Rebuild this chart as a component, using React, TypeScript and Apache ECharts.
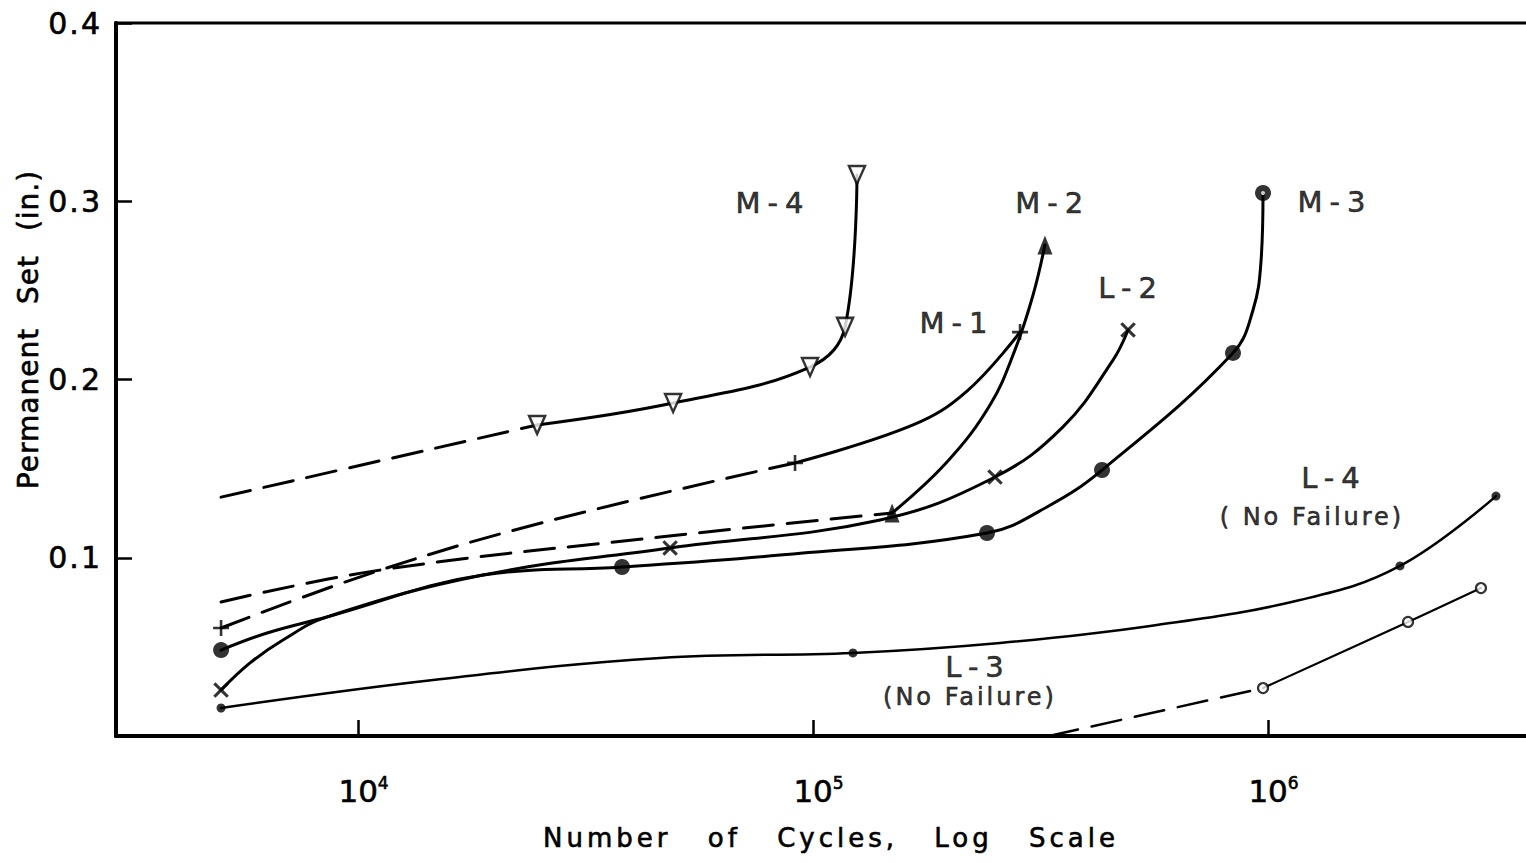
import React, { useEffect, useRef } from 'react';
import * as echarts from 'echarts';

type Pt = [number, number];

const FONT = "'DejaVu Sans', 'Liberation Sans', sans-serif";
const INK = { color: '#000', textBorderColor: '#000', textBorderWidth: 0.6 };

// ---- axes ----
const xMin = 2938;
const xMax = 4083000;
const yMin = 0;
const yMax = 0.4;
const yInterval = 0.1;
const xAxisTitle = 'Number of Cycles, Log Scale';
const yAxisTitle = 'Permanent Set (in.)';

// ---- M-4 (open down-triangles) ----
const m4Dashed: Pt[] = [[5000, 0.134], [24750, 0.1745]];
const m4Solid: Pt[] = [[24750, 0.1745], [49260, 0.1868], [98500, 0.207], [117600, 0.2295], [124900, 0.3147]];
const m4Marks: Pt[] = [[24750, 0.1745], [49260, 0.1868], [98500, 0.207], [117600, 0.2295], [124900, 0.3147]];

// ---- M-2 (filled up-triangles) ----
const m2Dashed: Pt[] = [[5000, 0.0752], [11200, 0.0931], [46100, 0.1116], [149200, 0.1251]];
const m2Solid: Pt[] = [[149200, 0.1251], [197000, 0.1537], [244900, 0.1857], [277900, 0.2166], [304500, 0.2474], [323400, 0.2755]];
const m2Marks: Pt[] = [[149200, 0.1251], [323400, 0.2755]];

// ---- M-1 (plus) ----
const m1Dashed: Pt[] = [[5000, 0.0606], [11200, 0.0931], [26830, 0.1212], [91300, 0.1532]];
const m1Solid: Pt[] = [[91300, 0.1532], [165900, 0.1745], [218000, 0.1935], [285100, 0.2266]];
const m1Marks: Pt[] = [[5000, 0.0606], [91300, 0.1532], [285100, 0.2266]];

// ---- L-2 (cross) ----
const l2Solid: Pt[] = [
  [5000, 0.0258], [5790, 0.041], [6840, 0.0539], [8550, 0.0668], [18830, 0.0903],
  [48520, 0.1055], [140400, 0.1212], [251200, 0.1453], [354300, 0.1734], [456300, 0.2109], [492500, 0.2278],
];
const l2Marks: Pt[] = [[5000, 0.0258], [48520, 0.1055], [251200, 0.1453], [492500, 0.2278]];

// ---- M-3 (large filled dots) ----
const m3Solid: Pt[] = [
  [5000, 0.0482], [6310, 0.0578], [8550, 0.0668], [18830, 0.0903], [38040, 0.0948], [84640, 0.1015],
  [241200, 0.1139], [326700, 0.1285], [431700, 0.1492], [837600, 0.2149],
  [927000, 0.239], [965000, 0.266], [975000, 0.3046],
];
const m3Marks: Pt[] = [[5000, 0.0482], [38040, 0.0948], [241200, 0.1139], [431700, 0.1492], [837600, 0.2149], [975000, 0.3046]];
const m3TopHole: Pt[] = [[975000, 0.3046]];

// ---- small filled dots curve (No Failure) ----
const smallDotSolid: Pt[] = [
  [5000, 0.0157], [14620, 0.0314], [46110, 0.0438], [122400, 0.0466], [257700, 0.0522],
  [550600, 0.0617], [1176000, 0.0763], [1950000, 0.0954], [3170000, 0.1346],
];
const smallDotMarks: Pt[] = [[5000, 0.0157], [122400, 0.0466], [1950000, 0.0954], [3170000, 0.1346]];

// ---- open small circles curve (No Failure) ----
const openDotDashed: Pt[] = [[330000, 0.0], [975000, 0.0269]];
const openDotSolid: Pt[] = [[975000, 0.0269], [2031000, 0.064], [2938000, 0.083]];
const openDotMarks: Pt[] = [[975000, 0.0269], [2031000, 0.064], [2938000, 0.083]];

// ---- curve labels ----
const curveLabelText = ['M-4', 'M-2', 'M-3', 'M-1', 'L-2', 'L-4', 'L-3'];
const curveLabelX = [81660, 336500, 1403000, 207300, 500000, 1396000, 230500];
const curveLabelY = [0.299, 0.299, 0.2996, 0.2317, 0.2513, 0.1447, 0.0387];
const noteText = ['( No Failure)', '(No Failure)'];
const noteX = [1249000, 221300];
const noteY = [0.1229, 0.0219];

const DASH = [30, 14];
const PLUS = 'path://M6.7,0H9.3V6.7H16V9.3H9.3V16H6.7V9.3H0V6.7H6.7Z';

const line = (name: string, data: Pt[], dashed: boolean, width = 3) => ({
  type: 'line',
  name,
  data,
  smooth: 0.4,
  symbol: 'none',
  showSymbol: false,
  silent: true,
  z: 2,
  lineStyle: { color: '#000', width, type: dashed ? DASH : 'solid', cap: 'round' },
});

const marks = (name: string, data: Pt[], symbol: string, size: number | number[], item: any, rotate = 0) => ({
  type: 'scatter',
  name,
  data,
  symbol,
  symbolSize: size,
  symbolRotate: rotate,
  symbolKeepAspect: true,
  silent: true,
  z: 5,
  itemStyle: item,
});

const css = `
#rc text[style*="26px"] { letter-spacing: 4px; word-spacing: 24px; }
#rc text[style*="28px"] { letter-spacing: 1px; word-spacing: 14px; }
#rc text[style*="24px"] { letter-spacing: 3px; }
#rc text[style*="29px"] { letter-spacing: 7px; }
#rc text[style*="30px"] { letter-spacing: 2px; }
`;

const isPow10 = (v: number) => {
  const l = Math.log10(v);
  return Math.abs(l - Math.round(l)) < 1e-6;
};

export default function App() {
  const ref = useRef<HTMLDivElement>(null);
  useEffect(() => {
    if (!ref.current) return;
    const chart = echarts.init(ref.current, null, { renderer: 'svg' });
    const option: any = {
      animation: false,
      backgroundColor: '#fff',
      grid: { left: 116, top: 23, right: 0, bottom: 127, show: true, borderColor: '#000', borderWidth: 3 },
      xAxis: {
        type: 'log',
        logBase: 10,
        min: xMin,
        max: xMax,
        splitLine: { show: false },
        minorTick: { show: false },
        axisLine: { show: true, lineStyle: { color: '#000', width: 4 } },
        axisTick: { show: true, inside: true, length: 16, lineStyle: { color: '#000', width: 2.5 } },
        axisLabel: {
          showMinLabel: false,
          showMaxLabel: false,
          margin: 38,
          fontSize: 31,
          fontFamily: FONT,
          ...INK,
          formatter: (v: number) => (isPow10(v) ? `{a|10}{b|${Math.round(Math.log10(v))}}` : ''),
          rich: {
            a: { fontSize: 31, fontFamily: FONT, ...INK, lineHeight: 34, padding: [0, 0, 0, 11] },
            b: { fontSize: 17, fontFamily: FONT, ...INK, lineHeight: 16, verticalAlign: 'top' },
          },
        },
        name: xAxisTitle,
        nameLocation: 'middle',
        nameGap: 89,
        nameTextStyle: { fontSize: 26, fontFamily: FONT, ...INK },
      },
      yAxis: {
        type: 'value',
        min: yMin,
        max: yMax,
        interval: yInterval,
        splitLine: { show: false },
        axisLine: { show: true, lineStyle: { color: '#000', width: 4 } },
        axisTick: { show: true, inside: true, length: 16, lineStyle: { color: '#000', width: 2.5 } },
        axisLabel: {
          margin: 14,
          fontSize: 30,
          fontFamily: FONT,
          ...INK,
          formatter: (v: number) => (v === 0 ? '' : v.toFixed(1)),
        },
        name: yAxisTitle,
        nameLocation: 'middle',
        nameGap: 72,
        nameTextStyle: { fontSize: 28, fontFamily: FONT, ...INK, padding: [0, 0, 0, 100] },
      },
      series: [
        line('M-4 extrapolated', m4Dashed, true),
        line('M-4', m4Solid, false),
        line('M-2 extrapolated', m2Dashed, true),
        line('M-2', m2Solid, false),
        line('M-1 extrapolated', m1Dashed, true),
        line('M-1', m1Solid, false),
        line('L-2', l2Solid, false),
        line('M-3', m3Solid, false),
        line('L-3', smallDotSolid, false, 2.5),
        line('L-4 extrapolated', openDotDashed, true, 2.5),
        line('L-4', openDotSolid, false, 2.2),
        marks('M-4 pts', m4Marks, 'triangle', [16, 18], { color: '#fff', borderColor: '#000', borderWidth: 2.5 }, 180),
        marks('M-2 pts', m2Marks, 'triangle', [15, 19], { color: '#000' }),
        marks('M-1 pts', m1Marks, PLUS, 16, { color: '#000' }),
        marks('L-2 pts', l2Marks, PLUS, 19, { color: '#000' }, 45),
        marks('M-3 pts', m3Marks, 'circle', 16, { color: '#000' }),
        marks('M-3 top', m3TopHole, 'circle', 4, { color: '#fff' }),
        marks('L-3 pts', smallDotMarks, 'circle', 9, { color: '#000' }),
        marks('L-4 pts', openDotMarks, 'circle', 10, { color: '#fff', borderColor: '#000', borderWidth: 2.2 }),
        {
          type: 'scatter',
          name: 'curve labels',
          silent: true,
          symbolSize: 1,
          itemStyle: { color: 'rgba(0,0,0,0)' },
          z: 6,
          data: curveLabelText.map((t, i) => ({ name: t, value: [curveLabelX[i], curveLabelY[i]] })),
          label: { show: true, position: 'inside', formatter: '{b}', fontSize: 29, fontFamily: FONT, ...INK },
        },
        {
          type: 'scatter',
          name: 'notes',
          silent: true,
          symbolSize: 1,
          itemStyle: { color: 'rgba(0,0,0,0)' },
          z: 6,
          data: noteText.map((t, i) => ({ name: t, value: [noteX[i], noteY[i]] })),
          label: { show: true, position: 'inside', formatter: '{b}', fontSize: 24, fontFamily: FONT, ...INK },
        },
      ],
    };
    chart.setOption(option);
    return () => chart.dispose();
  }, []);
  return (
    <>
      <style>{css}</style>
      <div style={{ position: 'absolute', left: 0, top: 0, width: 1526, height: 863, overflow: 'hidden', background: '#fff' }}>
        <div id="rc" ref={ref} style={{ width: 1546, height: 863 }} />
      </div>
    </>
  );
}
